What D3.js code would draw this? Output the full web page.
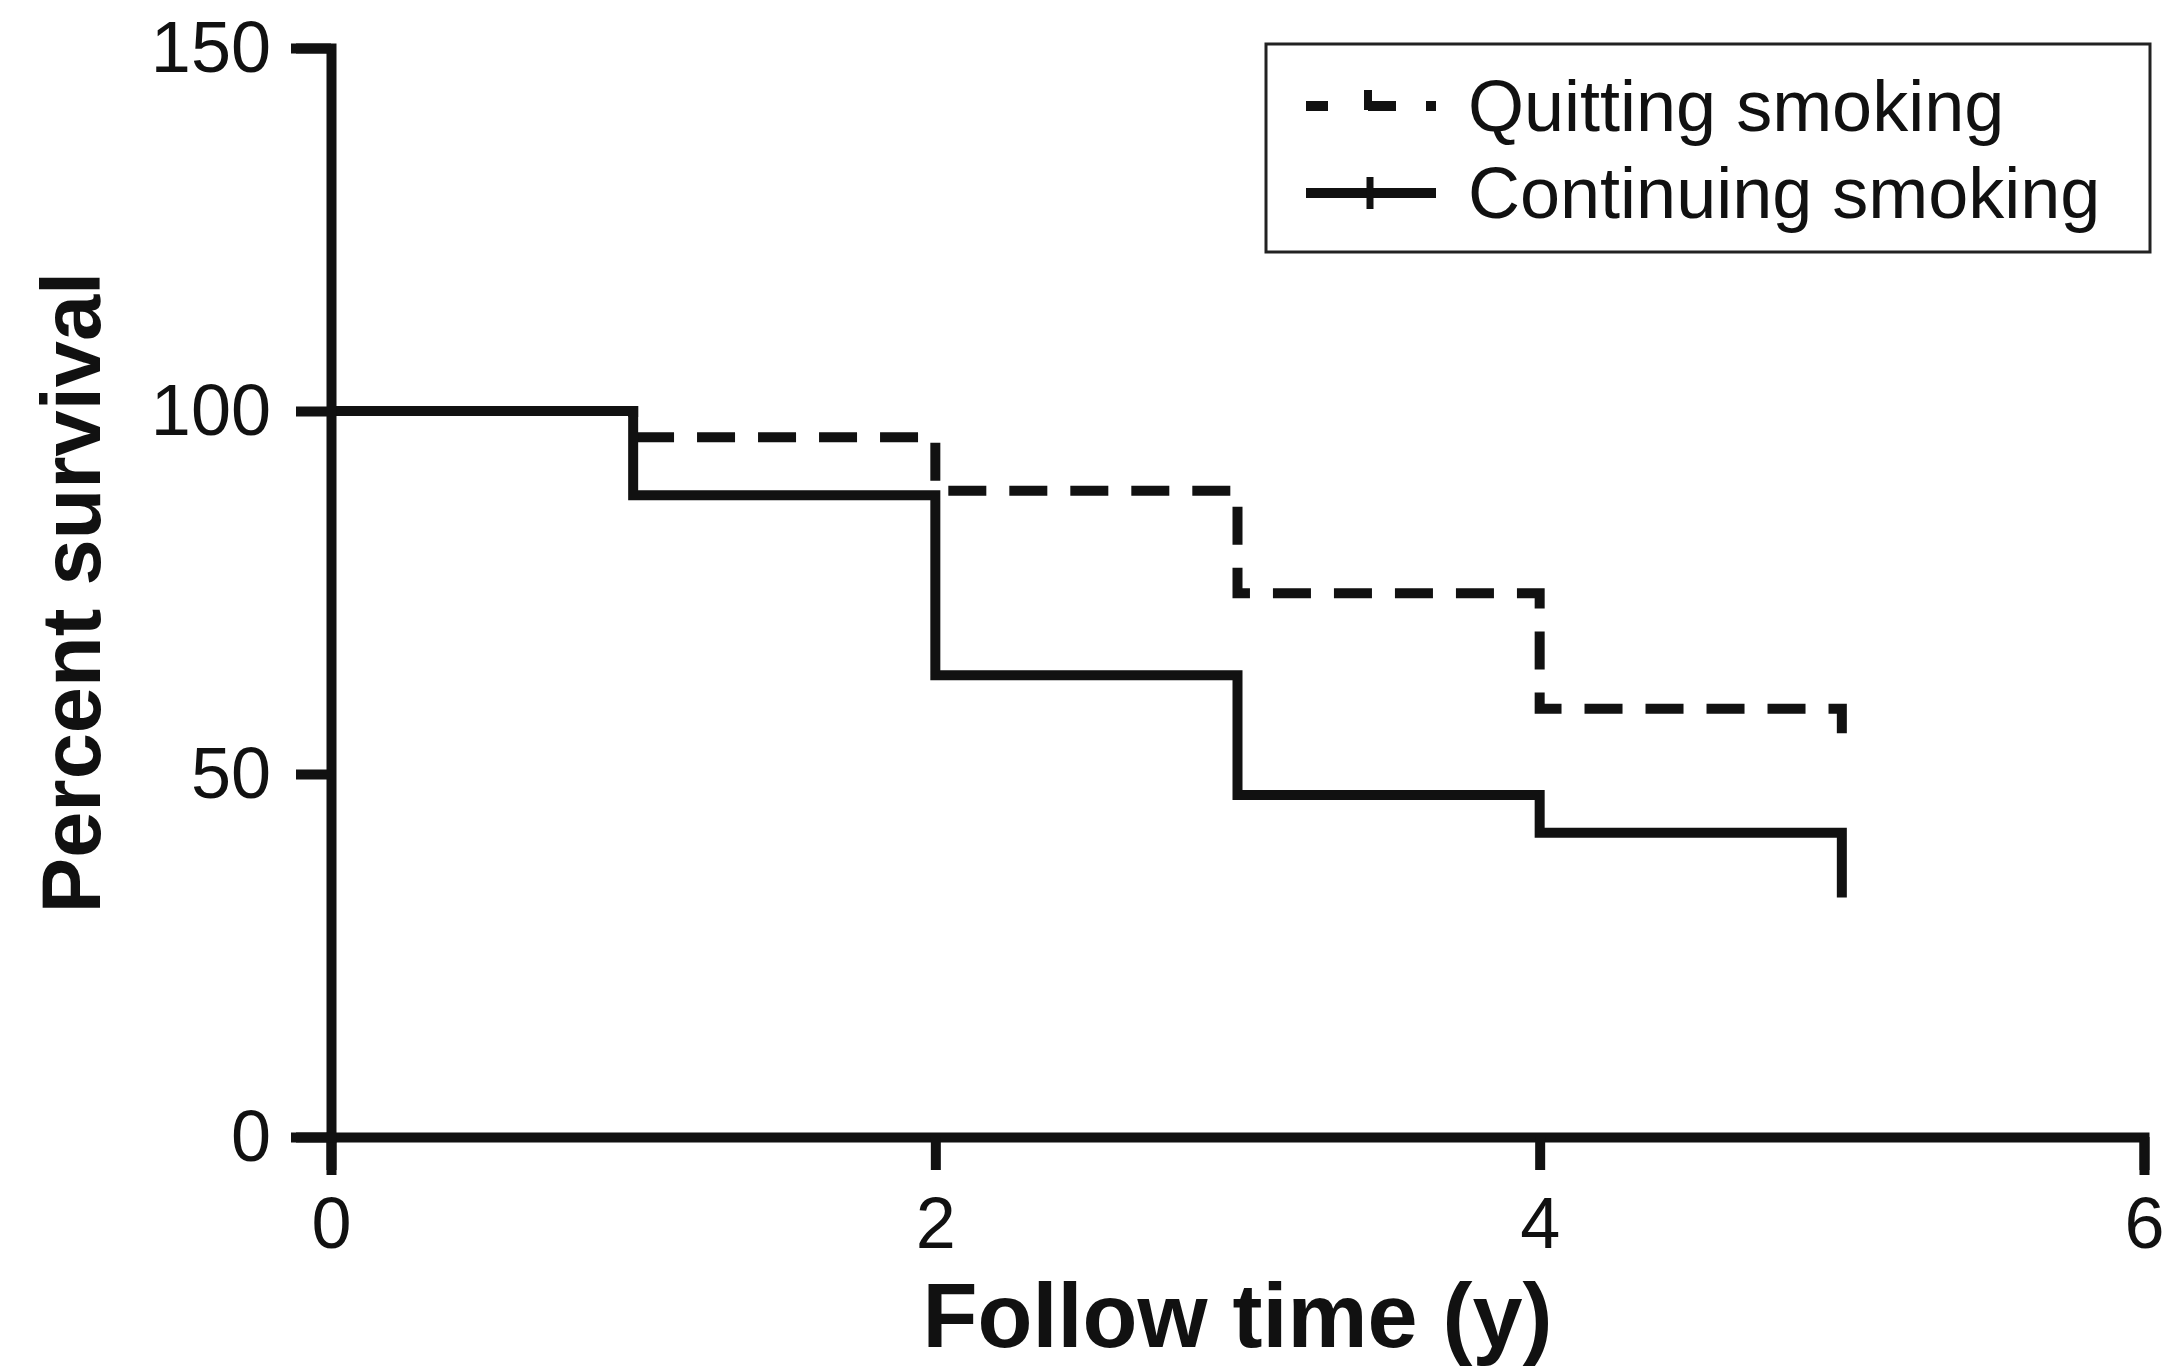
<!DOCTYPE html>
<html>
<head>
<script src="https://d3js.org/d3.v7.min.js"></script>
<style>
  body { margin: 0; background: #fff; }
  text { font-family: "Liberation Sans", Arial, sans-serif; fill: #111; }
  .tick text { font-size: 72px; }
  .axis-title { font-weight: bold; }
  .legend-label { font-size: 72px; }
</style>
</head>
<body>
<script>
// follow-up years and survival (%)
var years = [0, 1, 2, 3, 4, 5];
var quitting = [100, 96.4, 89, 74.9, 59, 55.6];
var continuing = [100, 88.4, 63.6, 47.1, 41.9, 33];
var xTicks = [0, 2, 4, 6];
var yTicks = [0, 50, 100, 150];
var seriesNames = ["Quitting smoking", "Continuing smoking"];

var W = 2167, H = 1369;
var margin = {top: 48, right: 23, bottom: 232, left: 331};
var width = W - margin.left - margin.right,
    height = H - margin.top - margin.bottom;

var x = d3.scaleLinear().domain([0, 6]).range([0, width]);
var y = d3.scaleLinear().domain([0, 150]).range([height, 0]);

var svg = d3.select("body").append("svg")
    .attr("width", W)
    .attr("height", H);

var g = svg.append("g")
    .attr("transform", "translate(" + margin.left + "," + margin.top + ")");

// survival curves as steps
var line = d3.line()
    .x(function(d) { return x(d[0]); })
    .y(function(d) { return y(d[1]); })
    .curve(d3.curveStepAfter);

var dash = 38, gap = 23;
var quitPath = g.append("path")
    .datum(years.map(function(t, i) { return [t, quitting[i]]; }))
    .attr("fill", "none")
    .attr("stroke", "#111")
    .attr("stroke-width", 10)
    .attr("stroke-dasharray", dash + "," + gap)
    .attr("d", line);
// make the pattern finish on a dash so the last drop shows
var len = quitPath.node().getTotalLength();
quitPath.attr("stroke-dashoffset", dash - (len % (dash + gap)));

g.append("path")
    .datum(years.map(function(t, i) { return [t, continuing[i]]; }))
    .attr("fill", "none")
    .attr("stroke", "#111")
    .attr("stroke-width", 10)
    .attr("d", line);

// axes
var xAxis = g.append("g")
    .attr("transform", "translate(0," + height + ")")
    .call(d3.axisBottom(x).tickValues(xTicks).tickSize(33).tickPadding(27).tickFormat(d3.format("d")));

var yAxis = g.append("g")
    .call(d3.axisLeft(y).tickValues(yTicks).tickSize(35).tickPadding(25).tickFormat(d3.format("d")));

[xAxis, yAxis].forEach(function(a) {
    a.select(".domain").attr("stroke", "#111").attr("stroke-width", 10).attr("stroke-linecap", "square");
    a.selectAll(".tick line").attr("stroke", "#111").attr("stroke-width", 10);
    a.selectAll(".tick text").attr("fill", "#111");
    a.attr("font-family", null).attr("font-size", null);
});

// axis titles
svg.append("text")
    .attr("class", "axis-title")
    .attr("x", margin.left + width / 2)
    .attr("y", 1347)
    .attr("text-anchor", "middle")
    .attr("font-size", 90)
    .text("Follow time (y)");

svg.append("text")
    .attr("class", "axis-title")
    .attr("transform", "translate(100," + (margin.top + height / 2) + ") rotate(-90)")
    .attr("text-anchor", "middle")
    .attr("font-size", 83)
    .text("Percent survival");

// legend
var legend = svg.append("g");
legend.append("rect")
    .attr("x", 1266).attr("y", 44)
    .attr("width", 884).attr("height", 208)
    .attr("fill", "#fff")
    .attr("stroke", "#222")
    .attr("stroke-width", 3);

var rows = [106, 193];
legend.append("line")
    .attr("x1", 1306).attr("x2", 1436)
    .attr("y1", rows[0]).attr("y2", rows[0])
    .attr("stroke", "#111").attr("stroke-width", 10)
    .attr("stroke-dasharray", "22,40,28,30");
legend.append("line")
    .attr("x1", 1368).attr("x2", 1368)
    .attr("y1", rows[0] - 16).attr("y2", rows[0] + 4)
    .attr("stroke", "#111").attr("stroke-width", 8);

legend.append("line")
    .attr("x1", 1306).attr("x2", 1436)
    .attr("y1", rows[1]).attr("y2", rows[1])
    .attr("stroke", "#111").attr("stroke-width", 10);
legend.append("line")
    .attr("x1", 1370).attr("x2", 1370)
    .attr("y1", rows[1] - 16).attr("y2", rows[1] + 16)
    .attr("stroke", "#111").attr("stroke-width", 7);

legend.selectAll(".legend-label")
    .data(seriesNames)
    .enter().append("text")
    .attr("class", "legend-label")
    .attr("x", 1468)
    .attr("y", function(d, i) { return rows[i] + 25; })
    .text(function(d) { return d; });
</script>
</body>
</html>
